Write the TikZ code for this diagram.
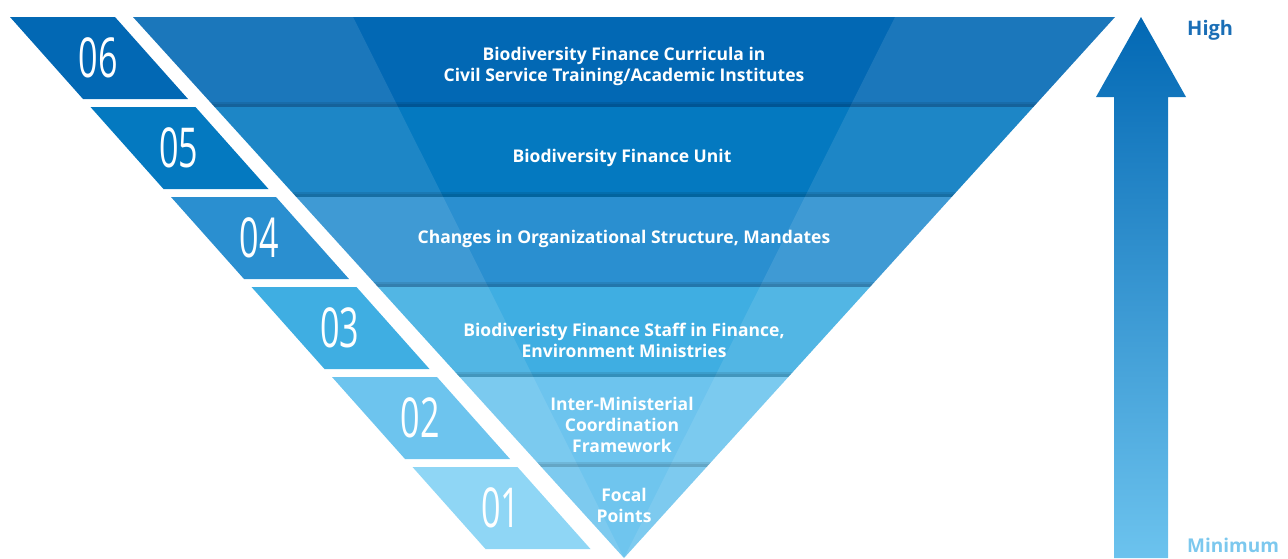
\documentclass[tikz,border=0pt]{standalone}
\usepackage{fontspec}
\setmainfont{Open Sans}
\newfontfamily\lblfont{Open Sans}
\newfontfamily\numfont{Open Sans}[FakeStretch=0.62]
\definecolor{cA}{HTML}{0268B4}
\definecolor{cB}{HTML}{0479C0}
\definecolor{cC}{HTML}{2A8FD0}
\definecolor{cD}{HTML}{3FAEE2}
\definecolor{cE}{HTML}{6DC4EE}
\definecolor{cF}{HTML}{6FC5EE}
\definecolor{tF}{HTML}{8FD6F5}
\definecolor{arrtop}{HTML}{0268B4}
\definecolor{arrbot}{HTML}{6CC3EE}
\definecolor{highc}{HTML}{1A6EB6}
\definecolor{minc}{HTML}{7CC8EE}
\tikzset{
  lbl/.style={text=white, font=\lblfont\bfseries\fontsize{17.5}{21}\selectfont, align=center, inner sep=0pt},
  num/.style={text=white, font=\numfont\fontsize{55}{55}\selectfont, inner sep=0pt},
  shadowstrip/.style={black, opacity=0.09},
  sheen/.style={white, opacity=0.1}
}
\begin{document}
\begin{tikzpicture}[x=1pt,y=-1pt]
\useasboundingbox (0,0) rectangle (1288,558);
% funnel bands
\begin{scope}
\clip (133,17) -- (1115,17) -- (624,558) -- cycle;
\fill[cA] (100,17) rectangle (1150,107);
\fill[cB] (100,107) rectangle (1150,197);
\fill[cC] (100,197) rectangle (1150,287);
\fill[cD] (100,287) rectangle (1150,377);
\fill[cE] (100,377) rectangle (1150,467);
\fill[cF] (100,467) rectangle (1150,560);
\fill[sheen] (133,17) -- (353,17) -- (624,558) -- cycle;
\fill[sheen] (895,17) -- (1115,17) -- (624,558) -- cycle;
\foreach \b in {107,197,287,377,467} {
  \fill[shadowstrip] (100,\b-5) rectangle (1150,\b);
  \fill[shadowstrip] (100,\b-3) rectangle (1150,\b);
}
\end{scope}
% number tabs
\foreach \i/\c in {0/cA,1/cB,2/cC,3/cD,4/cE,5/tF} {
  \fill[\c] ({10+80.5*\i},{17+90*\i}) -- ({115+80.5*\i},{17+90*\i}) -- ({188+80.5*\i},{99+90*\i}) -- ({83+80.5*\i},{99+90*\i}) -- cycle;
}
\node[num] (n6) at (98,58) {06};
\node[num] (n5) at (178.5,148) {05};
\node[num] (n4) at (259,238) {04};
\node[num] (n3) at (339.5,328) {03};
\node[num] (n2) at (420,418) {02};
\node[num] (n1) at (500.5,508) {01};
% labels
\node[lbl] (l6) at (624,66) {Biodiversity Finance Curricula in\\Civil Service Training/Academic Institutes};
\node[lbl] (l5) at (622,158) {Biodiversity Finance Unit};
\node[lbl] (l4) at (624,239) {Changes in Organizational Structure, Mandates};
\node[lbl] (l3) at (624,340) {Biodiveristy Finance Staff in Finance,\\Environment Ministries};
\node[lbl] (l2) at (622,425) {Inter-Ministerial\\Coordination\\Framework};
\node[lbl] (l1) at (624,505) {Focal\\Points};
% arrow
\shade[top color=arrtop, bottom color=arrbot] (1141,17) -- (1186,97) -- (1168,97) -- (1168,558) -- (1114,558) -- (1114,97) -- (1096,97) -- cycle;
\node[anchor=west, inner sep=0pt, text=highc, font=\bfseries\fontsize{20}{20}\selectfont] (high) at (1187,30) {High};
\node[anchor=base west, inner sep=0pt, text=minc, font=\bfseries\fontsize{19}{19}\selectfont] (min) at (1187,552) {Minimum};
\end{tikzpicture}
\end{document}
